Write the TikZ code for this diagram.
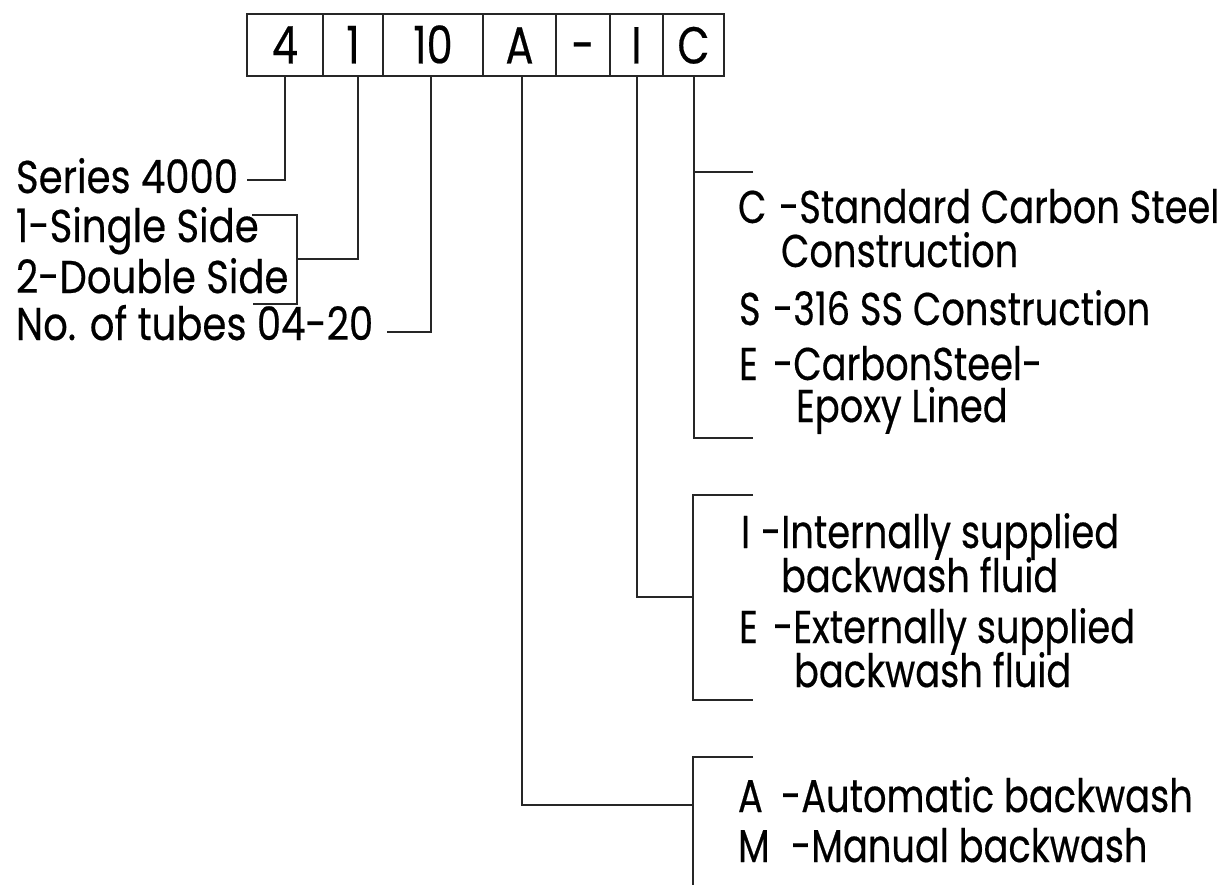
\documentclass[tikz,border=0pt]{standalone}
\usepackage{fontspec}
\setmainfont[FakeStretch=0.80, FakeBold=0.4]{Poppins}
\newfontfamily\leftfont[FakeStretch=0.84, FakeBold=0.4]{Poppins}
\begin{document}
\begin{tikzpicture}[x=1pt, y=-1pt, inner sep=0pt, line width=2pt, draw=black!85,
    digit/.style={draw, line width=1.6pt, minimum height=62pt, text height=37pt, text depth=0pt, font=\fontsize{52}{52}\selectfont},
    txt/.style={anchor=base west, font=\fontsize{46}{46}\selectfont},
    ltxt/.style={anchor=base west, font=\leftfont\fontsize{46}{46}\selectfont}]
  \useasboundingbox (0,0) rectangle (1222,885);
  % code boxes
  \node[digit, minimum width=76pt] (B1) at (285,45) {4};
  \node[digit, minimum width=60pt] (B2) at (353,45) {1};
  \node[digit, minimum width=100pt] (B3) at (433,45) {10};
  \node[digit, minimum width=73pt] (B4) at (519.5,45) {A};
  \node[digit, minimum width=54pt] (B5) at (583,45) {-};
  \node[digit, minimum width=53pt] (B6) at (636.5,45) {I};
  \node[digit, minimum width=61pt] (B7) at (693.5,45) {C};
  % left side
  \node[ltxt] (series) at (15,193) {Series 4000};
  \node[ltxt] (single) at (15,242) {1-Single Side};
  \node[ltxt] (double) at (15,293) {2-Double Side};
  \node[ltxt] (tubes) at (15,340) {No. of tubes 04-20};
  \coordinate (SerE) at (247,180);
  \coordinate (SdT) at (252,215);
  \coordinate (SdJ) at (297,259);
  \coordinate (SdB) at (253,304);
  \coordinate (TubE) at (387,332);
  \draw (B1.south) |- (SerE);
  \draw ([xshift=5pt]B2.south) |- (SdJ);
  \draw (SdT) -| (SdJ) |- (SdB);
  \draw ([xshift=-2pt]B3.south) |- (TubE);
  % right side
  \node[txt] (cC) at (737,223) {C};
  \node[txt] (cStd) at (778,223) {-Standard Carbon Steel};
  \node[txt] (cCon) at (780,267) {Construction};
  \node[txt] (cS) at (738,325) {S};
  \node[txt] (cSS) at (772,325) {-316 SS Construction};
  \node[txt] (cE) at (738,380) {E};
  \node[txt] (cEp) at (772,380) {-CarbonSteel-};
  \node[txt] (cLin) at (795,422) {Epoxy Lined};
  \node[txt] (iI) at (740,548) {I};
  \node[txt] (iInt) at (760,548) {-Internally supplied};
  \node[txt] (iFl) at (780,592) {backwash fluid};
  \node[txt] (iE) at (738,643) {E};
  \node[txt] (iExt) at (772,643) {-Externally supplied};
  \node[txt] (iFl2) at (793,687) {backwash fluid};
  \node[txt] (aA) at (737,812) {A};
  \node[txt] (aAut) at (780,812) {-Automatic backwash};
  \node[txt] (aM) at (737,862) {M};
  \node[txt] (aMan) at (790,862) {-Manual backwash};
  \coordinate (CT) at (753,172);
  \coordinate (CB) at (753,438);
  \coordinate (IT) at (753,495);
  \coordinate (IJ) at (693,597);
  \coordinate (IB) at (753,700);
  \coordinate (AT) at (753,757);
  \coordinate (AJ) at (693,805);
  \coordinate (AB) at (693,885);
  \draw (CT) -- (CT -| B7.south);
  \draw (B7.south) |- (CB);
  \draw ([xshift=0.5pt]B6.south) |- (IJ);
  \draw (IT) -| (IJ) |- (IB);
  \draw ([xshift=2.5pt]B4.south) |- (AJ);
  \draw (AT) -| (AJ) -- (AB);
\end{tikzpicture}
\end{document}
